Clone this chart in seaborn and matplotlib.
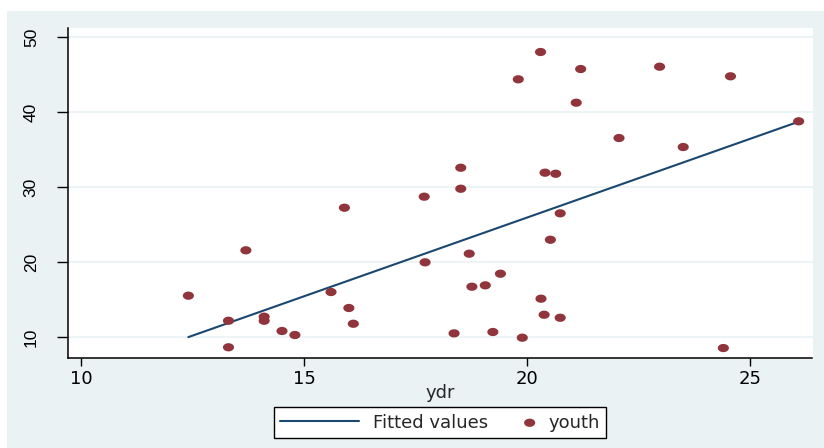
import numpy as np
import pandas as pd
import matplotlib
matplotlib.use("Agg")
import matplotlib.pyplot as plt
import seaborn as sns
from matplotlib.path import Path
from matplotlib.patches import Rectangle
from matplotlib.legend_handler import HandlerPathCollection
from matplotlib.collections import PathCollection

# data
ydr = [12.40, 13.30, 13.30, 13.69, 14.10, 14.10, 14.50, 14.79, 15.60, 16.00,
       16.10, 15.90, 17.69, 17.71, 18.36, 18.51, 18.51, 18.70, 18.76, 19.06,
       19.40, 19.23, 19.80, 19.89, 20.30, 20.31, 20.38, 20.40, 20.52, 20.64,
       20.74, 20.74, 21.10, 21.20, 22.06, 22.97, 23.50, 24.40, 24.56, 26.09]
youth = [15.55, 12.21, 8.67, 21.60, 12.75, 12.21, 10.84, 10.31, 16.04, 13.91,
         11.81, 27.28, 28.75, 20.00, 10.53, 32.61, 29.81, 21.15, 16.75, 16.93,
         18.48, 10.71, 44.40, 9.95, 48.04, 15.15, 13.01, 31.95, 23.01, 31.81,
         26.53, 12.61, 41.28, 45.77, 36.57, 46.08, 35.37, 8.57, 44.80, 38.80]

x_ticks = [10, 15, 20, 25]
y_ticks = [10, 20, 30, 40, 50]

df = pd.DataFrame({"ydr": ydr, "youth": youth})

navy = "#1a476f"
maroon = "#90353b"
region = "#eaf2f3"

sns.set_style("white")
plt.rcParams["font.family"] = ["DejaVu Sans"]

# the source image is squashed vertically, so dots are ellipses
t = np.linspace(0, 2 * np.pi, 61)
ellipse = Path(np.column_stack([1.35 * np.cos(t), np.sin(t)]), closed=True)


class MarkerRight(HandlerPathCollection):
    # put the legend dot near its label, as Stata does
    def get_xdata(self, legend, xdescent, ydescent, width, height, fontsize):
        x = [-xdescent + width - 0.3 * fontsize]
        return x, x


fig = plt.figure(figsize=(8.24, 4.48), dpi=100)
fig.add_artist(Rectangle((7 / 824, 0), 1, (448 - 11) / 448, transform=fig.transFigure,
                         facecolor=region, edgecolor="none", zorder=-1))
ax = fig.add_axes([68 / 824, 1 - 357.5 / 448, (812.5 - 68) / 824, (357.5 - 28) / 448])
ax.set_facecolor("white")

sns.regplot(data=df, x="ydr", y="youth", ci=None, scatter=False, ax=ax,
            label="Fitted values", line_kws=dict(color=navy, lw=1.5))
sns.scatterplot(data=df, x="ydr", y="youth", ax=ax, marker=ellipse, s=64,
                color=maroon, edgecolor="none", linewidth=0, label="youth", zorder=3)

ax.set_xlim(9.70, 26.40)
ax.set_ylim(7.31, 51.24)
ax.set_xticks(x_ticks)
ax.set_yticks(y_ticks)
ax.set_ylabel("")
ax.set_xlabel("ydr", fontsize=13, labelpad=-3)

ax.yaxis.grid(True, color=region, lw=1.2)
ax.xaxis.grid(False)
for s in ["top", "right"]:
    ax.spines[s].set_visible(False)
for s in ["left", "bottom"]:
    ax.spines[s].set_color("black")
    ax.spines[s].set_linewidth(1.1)

ax.tick_params(axis="x", direction="out", length=6, width=1, pad=3, labelsize=13,
               bottom=True, colors="black")
ax.tick_params(axis="y", direction="out", length=8, width=1, pad=13, labelsize=12.5,
               left=True, colors="black")
for lab in ax.get_yticklabels():
    lab.set_rotation(90)
    lab.set_va("center")
    lab.set_fontfamily("Liberation Sans")

if ax.get_legend() is not None:
    ax.get_legend().remove()

handles, labels = ax.get_legend_handles_labels()
leg = fig.legend(handles, labels, loc="center", bbox_to_anchor=(440 / 824, 1 - 422.5 / 448),
                 ncol=2, frameon=True, fancybox=False, edgecolor="black", framealpha=1,
                 fontsize=13, handlelength=4.4, handletextpad=0.75, columnspacing=-1.8,
                 borderpad=0.35, scatterpoints=1,
                 handler_map={PathCollection: MarkerRight()})
leg.get_frame().set_linewidth(1.0)

fig.savefig("out.png", dpi=100, facecolor="white")
